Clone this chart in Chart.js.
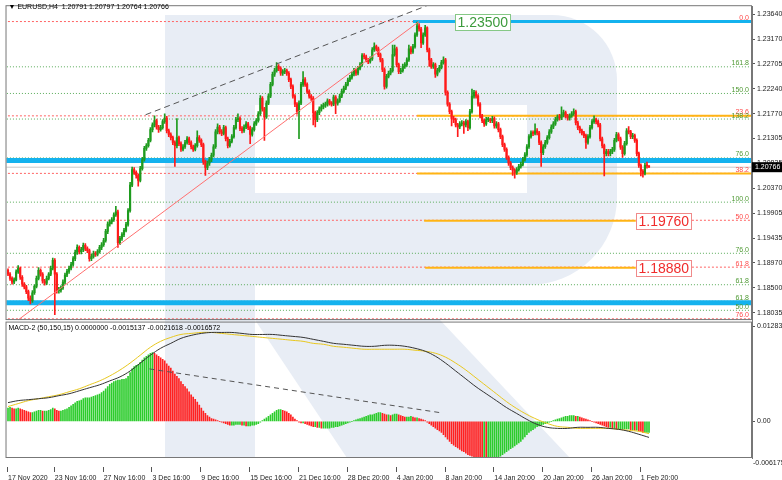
<!DOCTYPE html>
<html>
<head>
<meta charset="utf-8">
<script src="https://cdn.jsdelivr.net/npm/chart.js@4.4.1/dist/chart.umd.min.js"></script>
<style>
  html, body { margin: 0; padding: 0; background: #fff; }
  #area { width: 782px; height: 480px; }
</style>
</head>
<body>
<div id="area"><canvas id="graficoEurusd" width="782" height="480"></canvas></div>
<script>
// Velas H4 do EURUSD (uma por barra, da esquerda para a direita)
const aberturaInicial = 1.1883;
const fechamentos = [
  1.1876,1.1868,1.1861,1.1865,1.1880,1.1887,1.1870,1.1857,1.1852,1.1843,
  1.1831,1.1826,1.1841,1.1853,1.1868,1.1883,1.1876,1.1863,1.1859,1.1868,
  1.1876,1.1887,1.1902,1.1876,1.1845,1.1846,1.1850,1.1861,1.1874,1.1881,
  1.1887,1.1894,1.1905,1.1917,1.1926,1.1918,1.1922,1.1930,1.1924,1.1920,
  1.1905,1.1909,1.1915,1.1913,1.1918,1.1926,1.1931,1.1939,1.1956,1.1970,
  1.1974,1.1978,1.1987,1.1993,1.1935,1.1943,1.1950,1.1958,1.1969,1.1995,
  1.2043,1.2072,1.2067,1.2061,1.2052,1.2074,1.2091,1.2112,1.2117,1.2127,
  1.2147,1.2156,1.2164,1.2152,1.2147,1.2151,1.2162,1.2169,1.2145,1.2138,
  1.2132,1.2123,1.2117,1.2132,1.2121,1.2110,1.2115,1.2123,1.2130,1.2123,
  1.2115,1.2110,1.2117,1.2132,1.2127,1.2119,1.2087,1.2076,1.2084,1.2091,
  1.2099,1.2115,1.2143,1.2152,1.2143,1.2140,1.2151,1.2130,1.2117,1.2125,
  1.2134,1.2151,1.2166,1.2168,1.2149,1.2145,1.2152,1.2158,1.2151,1.2138,
  1.2147,1.2158,1.2164,1.2177,1.2206,1.2186,1.2171,1.2197,1.2210,1.2232,
  1.2251,1.2258,1.2266,1.2262,1.2253,1.2256,1.2258,1.2253,1.2241,1.2228,
  1.2210,1.2195,1.2181,1.2197,1.2232,1.2241,1.2232,1.2219,1.2210,1.2206,
  1.2179,1.2166,1.2179,1.2186,1.2190,1.2193,1.2195,1.2201,1.2197,1.2195,
  1.2208,1.2197,1.2201,1.2210,1.2219,1.2225,1.2232,1.2240,1.2245,1.2251,
  1.2258,1.2253,1.2262,1.2269,1.2286,1.2284,1.2278,1.2275,1.2280,1.2297,
  1.2303,1.2299,1.2288,1.2278,1.2260,1.2228,1.2247,1.2253,1.2258,1.2288,
  1.2299,1.2269,1.2256,1.2258,1.2266,1.2269,1.2278,1.2299,1.2293,1.2303,
  1.2325,1.2342,1.2336,1.2310,1.2325,1.2338,1.2297,1.2278,1.2266,1.2269,
  1.2251,1.2258,1.2264,1.2273,1.2278,1.2217,1.2195,1.2181,1.2168,1.2166,
  1.2156,1.2152,1.2158,1.2160,1.2156,1.2162,1.2151,1.2181,1.2210,1.2217,
  1.2210,1.2195,1.2173,1.2164,1.2158,1.2166,1.2166,1.2164,1.2168,1.2154,
  1.2158,1.2147,1.2134,1.2119,1.2110,1.2095,1.2084,1.2076,1.2071,1.2067,
  1.2072,1.2078,1.2082,1.2091,1.2100,1.2115,1.2134,1.2141,1.2140,1.2145,
  1.2141,1.2123,1.2104,1.2115,1.2123,1.2132,1.2143,1.2152,1.2158,1.2166,
  1.2171,1.2169,1.2175,1.2179,1.2173,1.2169,1.2173,1.2177,1.2181,1.2160,
  1.2151,1.2145,1.2141,1.2136,1.2123,1.2134,1.2151,1.2162,1.2166,1.2162,
  1.2156,1.2130,1.2117,1.2102,1.2106,1.2102,1.2106,1.2110,1.2127,1.2138,
  1.2130,1.2114,1.2102,1.2121,1.2145,1.2143,1.2134,1.2136,1.2127,1.2102,
  1.2080,1.2069,1.2065,1.2080,1.20791,1.20766
];
const maximas = [
  1.1886,1.1879,1.1871,1.1869,1.1884,1.1892,1.1889,1.1873,1.1860,1.1855,
  1.1846,1.1835,1.1845,1.1856,1.1872,1.1888,1.1886,1.1879,1.1866,1.1872,
  1.1879,1.1891,1.1906,1.1905,1.1879,1.1851,1.1854,1.1865,1.1878,1.1885,
  1.1891,1.1898,1.1909,1.1921,1.1931,1.1929,1.1926,1.1934,1.1933,1.1927,
  1.1923,1.1913,1.1919,1.1918,1.1922,1.1930,1.1935,1.1943,1.1960,1.1974,
  1.1978,1.1982,1.1991,1.2003,1.1996,1.1947,1.1954,1.1962,1.1973,1.1999,
  1.2048,1.2077,1.2076,1.2070,1.2064,1.2078,1.2095,1.2116,1.2121,1.2131,
  1.2151,1.2160,1.2173,1.2167,1.2155,1.2155,1.2166,1.2177,1.2172,1.2148,
  1.2141,1.2135,1.2126,1.2168,1.2135,1.2124,1.2119,1.2127,1.2134,1.2133,
  1.2126,1.2118,1.2121,1.2145,1.2136,1.2130,1.2122,1.2090,1.2088,1.2095,
  1.2103,1.2119,1.2147,1.2158,1.2155,1.2147,1.2155,1.2154,1.2133,1.2129,
  1.2138,1.2155,1.2170,1.2177,1.2171,1.2153,1.2156,1.2162,1.2161,1.2154,
  1.2151,1.2162,1.2168,1.2181,1.2211,1.2209,1.2189,1.2201,1.2214,1.2236,
  1.2255,1.2262,1.2273,1.2269,1.2265,1.2260,1.2262,1.2261,1.2256,1.2244,
  1.2231,1.2213,1.2198,1.2201,1.2236,1.2256,1.2245,1.2235,1.2222,1.2213,
  1.2209,1.2182,1.2183,1.2190,1.2194,1.2197,1.2199,1.2205,1.2204,1.2200,
  1.2212,1.2211,1.2205,1.2214,1.2223,1.2229,1.2236,1.2244,1.2249,1.2255,
  1.2262,1.2261,1.2266,1.2273,1.2290,1.2290,1.2287,1.2281,1.2284,1.2301,
  1.2310,1.2306,1.2302,1.2291,1.2281,1.2263,1.2251,1.2257,1.2262,1.2306,
  1.2306,1.2302,1.2272,1.2262,1.2270,1.2273,1.2282,1.2306,1.2303,1.2307,
  1.2329,1.2349,1.2346,1.2339,1.2329,1.2343,1.2340,1.2300,1.2281,1.2273,
  1.2272,1.2262,1.2268,1.2277,1.2284,1.2281,1.2220,1.2198,1.2184,1.2172,
  1.2169,1.2159,1.2162,1.2164,1.2163,1.2166,1.2165,1.2185,1.2223,1.2221,
  1.2220,1.2213,1.2198,1.2176,1.2167,1.2170,1.2170,1.2169,1.2172,1.2171,
  1.2162,1.2161,1.2150,1.2137,1.2122,1.2113,1.2098,1.2087,1.2079,1.2074,
  1.2076,1.2082,1.2086,1.2095,1.2104,1.2119,1.2138,1.2145,1.2145,1.2158,
  1.2149,1.2144,1.2126,1.2119,1.2127,1.2136,1.2147,1.2156,1.2162,1.2170,
  1.2175,1.2176,1.2190,1.2184,1.2182,1.2176,1.2177,1.2181,1.2186,1.2184,
  1.2163,1.2154,1.2148,1.2144,1.2139,1.2138,1.2155,1.2166,1.2173,1.2169,
  1.2165,1.2159,1.2133,1.2120,1.2110,1.2110,1.2110,1.2114,1.2131,1.2142,
  1.2141,1.2133,1.2117,1.2125,1.2149,1.2153,1.2146,1.2140,1.2139,1.2130,
  1.2105,1.2083,1.2072,1.2084,1.2086,1.20797
];
const minimas = [
  1.1873,1.1864,1.1857,1.1858,1.1863,1.1877,1.1866,1.1853,1.1848,1.1839,
  1.1826,1.1820,1.1823,1.1838,1.1850,1.1865,1.1872,1.1859,1.1855,1.1856,
  1.1865,1.1873,1.1884,1.1800,1.1840,1.1840,1.1842,1.1847,1.1858,1.1871,
  1.1877,1.1884,1.1891,1.1901,1.1913,1.1914,1.1914,1.1918,1.1920,1.1916,
  1.1900,1.1901,1.1906,1.1909,1.1910,1.1915,1.1922,1.1928,1.1936,1.1952,
  1.1966,1.1970,1.1975,1.1984,1.1926,1.1931,1.1939,1.1946,1.1955,1.1966,
  1.1992,1.2040,1.2063,1.2056,1.2041,1.2049,1.2071,1.2088,1.2108,1.2114,
  1.2124,1.2143,1.2152,1.2148,1.2142,1.2144,1.2148,1.2159,1.2141,1.2134,
  1.2128,1.2119,1.2078,1.2113,1.2117,1.2106,1.2107,1.2112,1.2120,1.2119,
  1.2111,1.2106,1.2107,1.2114,1.2123,1.2115,1.2082,1.2061,1.2072,1.2080,
  1.2087,1.2096,1.2112,1.2139,1.2139,1.2136,1.2137,1.2126,1.2113,1.2114,
  1.2122,1.2131,1.2148,1.2162,1.2145,1.2141,1.2142,1.2149,1.2147,1.2121,
  1.2135,1.2144,1.2155,1.2161,1.2174,1.2182,1.2127,1.2168,1.2194,1.2207,
  1.2229,1.2247,1.2255,1.2258,1.2249,1.2249,1.2252,1.2249,1.2237,1.2224,
  1.2206,1.2190,1.2176,1.2130,1.2194,1.2228,1.2228,1.2215,1.2206,1.2202,
  1.2156,1.2152,1.2162,1.2175,1.2182,1.2186,1.2189,1.2191,1.2193,1.2191,
  1.2192,1.2177,1.2193,1.2198,1.2207,1.2216,1.2222,1.2229,1.2237,1.2242,
  1.2248,1.2249,1.2250,1.2259,1.2266,1.2280,1.2274,1.2271,1.2272,1.2277,
  1.2294,1.2295,1.2284,1.2274,1.2256,1.2223,1.2225,1.2244,1.2250,1.2255,
  1.2285,1.2265,1.2252,1.2252,1.2255,1.2262,1.2266,1.2275,1.2289,1.2290,
  1.2300,1.2322,1.2332,1.2301,1.2307,1.2322,1.2293,1.2266,1.2262,1.2262,
  1.2245,1.2248,1.2255,1.2261,1.2270,1.2212,1.2191,1.2177,1.2154,1.2160,
  1.2152,1.2134,1.2149,1.2154,1.2140,1.2152,1.2145,1.2148,1.2178,1.2206,
  1.2206,1.2191,1.2169,1.2160,1.2153,1.2155,1.2162,1.2160,1.2160,1.2150,
  1.2150,1.2143,1.2130,1.2115,1.2106,1.2091,1.2080,1.2072,1.2061,1.2056,
  1.2063,1.2069,1.2075,1.2079,1.2088,1.2097,1.2112,1.2131,1.2136,1.2137,
  1.2137,1.2119,1.2078,1.2100,1.2112,1.2120,1.2129,1.2140,1.2149,1.2155,
  1.2163,1.2165,1.2166,1.2171,1.2169,1.2165,1.2165,1.2170,1.2174,1.2156,
  1.2147,1.2141,1.2137,1.2132,1.2112,1.2120,1.2131,1.2148,1.2159,1.2158,
  1.2152,1.2126,1.2113,1.2060,1.2098,1.2098,1.2098,1.2102,1.2106,1.2124,
  1.2126,1.2110,1.2095,1.2099,1.2118,1.2139,1.2130,1.2130,1.2123,1.2098,
  1.2076,1.2060,1.2058,1.2062,1.2075,1.20764
];

// Histograma do MACD-2 (uma barra por vela)
const histograma = [
  0.0018,0.0019,0.0018,0.0017,0.0017,0.0018,0.0017,0.0016,0.0015,0.0014,
  0.0013,0.0012,0.0012,0.0013,0.0014,0.0015,0.0015,0.0014,0.0014,0.0014,
  0.0015,0.0016,0.0018,0.0017,0.0015,0.0014,0.0014,0.0015,0.0016,
  0.0017,0.0019,0.0021,0.0023,0.0025,0.0027,0.0028,0.0029,0.0031,0.0032,
  0.0032,0.0032,0.0033,0.0034,0.0035,0.0036,0.0037,0.0039,0.0041,0.0044,
  0.0047,0.0050,0.0052,0.0054,0.0055,0.0056,0.0056,0.0057,0.0057,0.0058,
  0.0061,0.0066,0.0071,0.0074,0.0076,0.0077,0.0080,0.0083,0.0086,0.0088,
  0.0090,0.0092,0.0093,
  0.0092,0.0090,0.0088,0.0086,0.0084,0.0082,0.0078,0.0075,0.0072,0.0068,
  0.0064,0.0061,0.0058,0.0054,0.0050,0.0047,0.0044,0.0040,0.0036,0.0033,
  0.0030,0.0026,0.0022,0.0018,0.0014,0.0011,0.0008,0.0006,0.0004,0.0003,
  0.0002,0.0001,0.0000,-0.0001,
  -0.0002,-0.0003,-0.0004,-0.0005,-0.0005,-0.0005,-0.0004,-0.0004,-0.0004,-0.0005,
  -0.0005,-0.0006,-0.0006,-0.0006,-0.0005,-0.0005,-0.0004,-0.0003,-0.0001,0.0001,
  0.0003,0.0005,0.0007,
  0.0009,0.0011,0.0013,0.0015,0.0016,0.0016,0.0015,0.0014,0.0013,0.0011,0.0009,0.0006,0.0003,
  0.0001,-0.0001,-0.0002,-0.0002,-0.0003,-0.0004,-0.0005,-0.0006,-0.0007,-0.0007,
  -0.0008,-0.0008,-0.0009,-0.0009,-0.0009,-0.0009,-0.0009,-0.0008,-0.0008,-0.0007,
  -0.0007,-0.0006,-0.0005,-0.0004,-0.0003,-0.0002,-0.0001,0.0000,0.0001,0.0002,
  0.0003,0.0004,0.0005,0.0006,0.0007,0.0008,0.0009,0.0009,0.0010,
  0.0011,0.0012,0.0012,0.0011,0.0010,0.0009,0.0009,0.0008,0.0009,0.0010,
  0.0010,0.0009,0.0008,0.0007,0.0006,0.0006,0.0006,0.0007,0.0006,0.0005,
  0.0005,0.0004,0.0003,0.0002,0.0001,
  -0.0001,-0.0003,-0.0005,-0.0007,-0.0009,-0.0011,-0.0013,-0.0015,-0.0018,-0.0021,
  -0.0024,-0.0027,-0.0030,-0.0032,-0.0034,-0.0036,-0.0038,-0.0040,-0.0041,-0.0043,
  -0.0045,-0.0046,-0.0047,-0.0048,-0.0049,-0.0050,-0.0051,-0.0052,-0.0052,-0.0053,
  -0.0053,-0.0052,-0.0052,-0.0051,-0.0050,
  -0.0049,-0.0047,-0.0045,-0.0043,-0.0041,-0.0039,-0.0037,-0.0035,-0.0033,-0.0031,
  -0.0029,-0.0027,-0.0024,-0.0021,-0.0018,-0.0015,-0.0013,-0.0011,-0.0009,-0.0007,
  -0.0006,-0.0005,
  -0.0004,-0.0003,-0.0002,-0.0001,0.0000,0.0001,0.0002,0.0003,0.0004,0.0005,
  0.0006,0.0007,0.0007,0.0008,0.0008,0.0008,0.0007,0.0007,0.0006,0.0005,
  0.0004,0.0003,0.0002,0.0001,0.0000,-0.0001,
  -0.0002,-0.0003,-0.0004,-0.0005,-0.0006,-0.0007,-0.0008,-0.0008,-0.0009,-0.0009,
  -0.0010,-0.0010,-0.0010,-0.0010,-0.0010,-0.0010,-0.0010,-0.0011,-0.0011,-0.0012,
  -0.0012,-0.0013,-0.0014,-0.0015,-0.0015,-0.0015,-0.0015
];

// Linhas do MACD-2, um valor a cada 5 barras
const passoMacd = 5;
const macdPrincipal = [
  0.00254,0.00281,0.00294,0.00307,0.00321,0.00348,0.00374,0.00414,0.00455,0.00495,
  0.00548,0.00602,0.00682,0.00789,0.00896,0.00989,0.01056,0.01123,0.01163,0.01190,
  0.01203,0.01203,0.01203,0.01190,0.01176,0.01176,0.01176,0.01163,0.01150,0.01136,
  0.01110,0.01083,0.01056,0.01043,0.01029,0.01016,0.01016,0.01029,0.01029,0.01016,
  0.00989,0.00949,0.00882,0.00789,0.00682,0.00575,0.00468,0.00374,0.00281,0.00187,
  0.00107,0.00027,-0.00040,-0.00080,-0.00094,-0.00094,-0.00080,-0.00080,-0.00080,-0.00094,
  -0.00107,-0.00134,-0.00174,-0.0021618
];
const macdSinal = [
  0.00201,0.00241,0.00281,0.00307,0.00334,0.00361,0.00401,0.00441,0.00495,0.00548,
  0.00615,0.00695,0.00789,0.00896,0.01003,0.01083,0.01136,0.01176,0.01190,0.01203,
  0.01203,0.01190,0.01176,0.01163,0.01150,0.01136,0.01123,0.01110,0.01096,0.01083,
  0.01056,0.01043,0.01016,0.01003,0.00989,0.00976,0.00976,0.00976,0.00976,0.00976,
  0.00963,0.00949,0.00922,0.00869,0.00789,0.00695,0.00588,0.00481,0.00374,0.00267,
  0.00174,0.00094,0.00027,-0.00027,-0.00067,-0.00080,-0.00094,-0.00094,-0.00094,-0.00094,
  -0.00107,-0.00120,-0.00134,-0.0016572
];

// Eixos
const ticksPreco = [1.23640,1.23170,1.22705,1.22240,1.21770,1.21305,1.20835,1.20370,1.19905,1.19435,1.18970,1.18500,1.18035];
const ticksMacd = [0.0128347, 0];
const macdMinimoRotulo = '-0.006175';
const indicesTempo = [0,23,47,71,95,119,143,167,191,215,239,263,287,311];
const rotulosTempo = ['17 Nov 2020','23 Nov 16:00','27 Nov 16:00','3 Dec 16:00','9 Dec 16:00','15 Dec 16:00',
  '21 Dec 16:00','28 Dec 20:00','4 Jan 20:00','8 Jan 20:00','14 Jan 20:00','20 Jan 20:00','26 Jan 20:00','1 Feb 20:00'];

// Níveis de Fibonacci e linhas horizontais
const niveisRetracao = [1.2350,1.2173,1.2065,1.1977,1.1889,1.1792];
const rotulosRetracao = ['0.0','23.6','38.2','50.0','61.8','76.0'];
const niveisExtensao = [1.2265,1.2215,1.2167,1.2094,1.2011,1.1915,1.1856,1.1825,1.1808];
const rotulosExtensao = ['161.8','150.0','138.2','76.0','100.0','76.0','61.8','61.8','50.0'];
const niveisAzuis = [1.2350,1.2089,1.1822];
const inicioAzuis = [199,-2,-2];
const niveisLaranja = [1.2173,1.2065,1.1976,1.1888];
const inicioLaranja = [201,201,204.5,205];
const fimLaranja = [370,370,308.5,308.5];
const precoAtual = 1.20766;
const caixasPreco = [1.2350,1.1976,1.1888];
const caixasInicio = [219.5,308.5,308.5];

// Linhas de tendência (índice da barra, valor)
const tendenciaX = [5,202];
const tendenciaY = [1.1790,1.2350];
const canalX = [67.6,206];
const canalY = [1.2175,1.2380];
const macdTendX = [69.5,212];
const macdTendY = [0.0071,0.0012];

const verde = '#1e9b1e';
const vermelho = '#ff1a1a';
const fonte = '"Liberation Sans", Arial, sans-serif';
Chart.defaults.font.family = fonte;

const aberturas = fechamentos.map((c, i) => i === 0 ? aberturaInicial : fechamentos[i - 1]);
const corVela = fechamentos.map((c, i) => c >= aberturas[i] ? verde : vermelho);
const corHist = histograma.map((v, i) => (i === 0 || v >= histograma[i - 1]) ? '#2ccc2c' : '#ff2020');

function linhaHorizontal(nivel, x0, x1, cor, largura, traco, ordem) {
  return {
    type: 'line', yAxisID: 'y',
    data: [{x: x0, y: nivel}, {x: x1, y: nivel}],
    borderColor: cor, borderWidth: largura, borderDash: traco,
    pointRadius: 0, order: ordem
  };
}

const conjuntos = [];
niveisRetracao.forEach(n => conjuntos.push(linhaHorizontal(n, -2, 370, '#ff6464', 1, [2, 2], 30)));
niveisExtensao.forEach(n => conjuntos.push(linhaHorizontal(n, -2, 370, '#5aac5a', 1, [1, 2], 30)));
conjuntos.push(linhaHorizontal(precoAtual, -2, 370, '#c8c8c8', 1, [], 29));
niveisLaranja.forEach((n, i) => conjuntos.push(linhaHorizontal(n, inicioLaranja[i], fimLaranja[i], '#ffb414', 2, [], 28)));
niveisAzuis.forEach((n, i) => conjuntos.push(linhaHorizontal(n, inicioAzuis[i], 370, '#14b2ee', i === 0 ? 3 : 5, [], 27)));

// Velas: sombras e corpos como barras flutuantes
conjuntos.push({
  type: 'bar', yAxisID: 'y', order: 11, grouped: false,
  data: fechamentos.map((c, i) => ({x: i, y: [minimas[i], maximas[i]]})),
  backgroundColor: corVela, barThickness: 1
});
conjuntos.push({
  type: 'bar', yAxisID: 'y', order: 10, grouped: false, minBarLength: 1,
  data: fechamentos.map((c, i) => ({x: i, y: [aberturas[i], c]})),
  backgroundColor: corVela, barThickness: 1.5
});

// Tendências
conjuntos.push({
  type: 'line', yAxisID: 'y', order: 2,
  data: tendenciaX.map((x, i) => ({x: x, y: tendenciaY[i]})),
  borderColor: '#ff7070', borderWidth: 1, pointRadius: 0
});
conjuntos.push({
  type: 'line', yAxisID: 'y', order: 2,
  data: canalX.map((x, i) => ({x: x, y: canalY[i]})),
  borderColor: '#555', borderWidth: 1, borderDash: [6, 4], pointRadius: 0
});

// Painel do MACD
conjuntos.push({
  type: 'bar', yAxisID: 'y2', order: 12, grouped: false,
  data: histograma.map((v, i) => ({x: i, y: v})),
  backgroundColor: corHist, barThickness: 1
});
conjuntos.push({
  type: 'line', yAxisID: 'y2', order: 3,
  data: macdPrincipal.map((v, i) => ({x: i * passoMacd, y: v})),
  borderColor: '#333', borderWidth: 1, pointRadius: 0, tension: 0.4
});
conjuntos.push({
  type: 'line', yAxisID: 'y2', order: 4,
  data: macdSinal.map((v, i) => ({x: i * passoMacd, y: v})),
  borderColor: '#e8c81e', borderWidth: 1, pointRadius: 0, tension: 0.4
});
conjuntos.push({
  type: 'line', yAxisID: 'y2', order: 2,
  data: macdTendX.map((x, i) => ({x: x, y: macdTendY[i]})),
  borderColor: '#555', borderWidth: 1, borderDash: [5, 4], pointRadius: 0
});

// Fundo branco e marca d'água
const pluginFundo = {
  id: 'fundo',
  beforeDraw(chart) {
    const ctx = chart.ctx;
    ctx.save();
    ctx.fillStyle = '#fff';
    ctx.fillRect(0, 0, chart.width, chart.height);
    ctx.fillStyle = '#e8edf5';
    ctx.fillRect(165, 15, 90, 443);
    ctx.beginPath();
    ctx.moveTo(255, 15);
    ctx.lineTo(552, 15);
    ctx.arcTo(617, 15, 617, 80, 65);
    ctx.lineTo(617, 197);
    ctx.arcTo(617, 285, 529, 285, 88);
    ctx.lineTo(255, 285);
    ctx.closePath();
    ctx.fill();
    ctx.fillStyle = '#fff';
    ctx.fillRect(255, 105, 272, 88);
    ctx.fillStyle = '#e8edf5';
    ctx.beginPath();
    ctx.moveTo(255, 320);
    ctx.lineTo(440, 320);
    ctx.lineTo(570, 458);
    ctx.lineTo(347, 458);
    ctx.closePath();
    ctx.fill();
    ctx.restore();
  }
};

// Bordas, rótulos de Fibonacci, caixas de preço e cabeçalhos
const pluginTextos = {
  id: 'textos',
  afterDraw(chart) {
    const {ctx, chartArea: a} = chart;
    const y = chart.scales.y, y2 = chart.scales.y2, x = chart.scales.x;
    ctx.save();
    ctx.strokeStyle = '#777';
    ctx.lineWidth = 1;
    ctx.strokeRect(a.left - 0.5, a.top - 0.5, a.right - a.left, y.bottom - a.top - 0.5);
    ctx.strokeRect(a.left - 0.5, y2.top + 1.5, a.right - a.left, y2.bottom - y2.top - 2);

    ctx.font = '7px ' + fonte;
    ctx.textAlign = 'right';
    ctx.textBaseline = 'alphabetic';
    niveisRetracao.forEach((n, i) => {
      ctx.fillStyle = '#ff4a4a';
      ctx.fillText(rotulosRetracao[i], a.right - 3, y.getPixelForValue(n) - 1.5);
    });
    niveisExtensao.forEach((n, i) => {
      ctx.fillStyle = '#4f9a34';
      ctx.fillText(rotulosExtensao[i], a.right - 3, y.getPixelForValue(n) - 1.5);
    });

    // caixas com o preço
    ctx.font = '14px ' + fonte;
    ctx.textAlign = 'left';
    ctx.textBaseline = 'middle';
    caixasPreco.forEach((p, i) => {
      const px = Math.round(x.getPixelForValue(caixasInicio[i]));
      const py = Math.round(y.getPixelForValue(p));
      const txt = p.toFixed(5);
      const w = Math.ceil(ctx.measureText(txt).width) + 4;
      const cor = i === 0 ? '#3c9a3c' : '#f02c2c';
      ctx.fillStyle = '#fff';
      ctx.fillRect(px, py - 8, w, 16);
      ctx.strokeStyle = i === 0 ? '#86c886' : '#f08a8a';
      ctx.strokeRect(px + 0.5, py - 7.5, w, 16);
      ctx.fillStyle = cor;
      ctx.fillText(txt, px + 2.5, py + 1);
    });

    // preço atual
    const pa = y.getPixelForValue(precoAtual);
    ctx.fillStyle = '#000';
    ctx.fillRect(a.right, pa - 5, chart.width - a.right, 10);
    ctx.font = '7px ' + fonte;
    ctx.fillStyle = '#fff';
    ctx.fillText(precoAtual.toFixed(5), a.right + 3, pa);

    // mínimo do MACD
    ctx.fillStyle = '#222';
    ctx.fillText(macdMinimoRotulo, a.right + 1, y2.bottom + 5);

    // marcas do eixo de tempo
    ctx.strokeStyle = '#555';
    indicesTempo.forEach(v => {
      const px = Math.round(x.getPixelForValue(v)) - 0.5;
      ctx.beginPath();
      ctx.moveTo(px, a.bottom + 9);
      ctx.lineTo(px, a.bottom + 14);
      ctx.stroke();
    });

    // cabeçalhos
    ctx.fillStyle = '#000';
    ctx.fillText('\u25BC EURUSD,H4  1.20791 1.20797 1.20764 1.20766', a.left + 2, 7);
    ctx.fillText('MACD-2 (50,150,15) 0.0000000 -0.0015137 -0.0021618 -0.0016572', a.left + 2, y2.top + 7);
    ctx.restore();
  }
};

const ctx = document.getElementById('graficoEurusd').getContext('2d');
new Chart(ctx, {
  type: 'bar',
  data: { datasets: conjuntos },
  options: {
    responsive: false,
    animation: false,
    devicePixelRatio: 1,
    events: [],
    layout: { padding: { left: 1, top: 1, right: 0, bottom: 0 } },
    plugins: { legend: { display: false }, tooltip: { enabled: false } },
    scales: {
      x: {
        type: 'linear', min: -0.732, max: 365.61, offset: false,
        grid: { display: false }, border: { display: false },
        afterBuildTicks: s => { s.ticks = indicesTempo.map(v => ({value: v})); },
        afterFit: s => { s.height = 22; },
        ticks: {
          autoSkip: false, maxRotation: 0, minRotation: 0, align: 'start', padding: 8,
          color: '#222', font: { size: 7 },
          callback: (v, i) => rotulosTempo[i]
        }
      },
      y: {
        type: 'linear', position: 'right', stack: 'paineis', stackWeight: 318,
        min: 1.17887, max: 1.23788,
        grid: { drawOnChartArea: false, tickLength: 3, color: '#555' },
        border: { color: '#777' },
        afterBuildTicks: s => { s.ticks = ticksPreco.map(v => ({value: v})); },
        afterFit: s => { s.width = 30; },
        ticks: { autoSkip: false, padding: 2, color: '#222', font: { size: 7 }, callback: v => v.toFixed(5) }
      },
      y2: {
        type: 'linear', position: 'right', stack: 'paineis', stackWeight: 139,
        min: -0.004947, max: 0.013636,
        grid: { drawOnChartArea: false, tickLength: 3, color: '#555' },
        border: { color: '#777' },
        afterBuildTicks: s => { s.ticks = ticksMacd.map(v => ({value: v})); },
        afterFit: s => { s.width = 30; },
        ticks: { autoSkip: false, padding: 2, color: '#222', font: { size: 7 }, callback: v => v === 0 ? '0.00' : String(v) }
      }
    }
  },
  plugins: [pluginFundo, pluginTextos]
});
</script>
</body>
</html>
